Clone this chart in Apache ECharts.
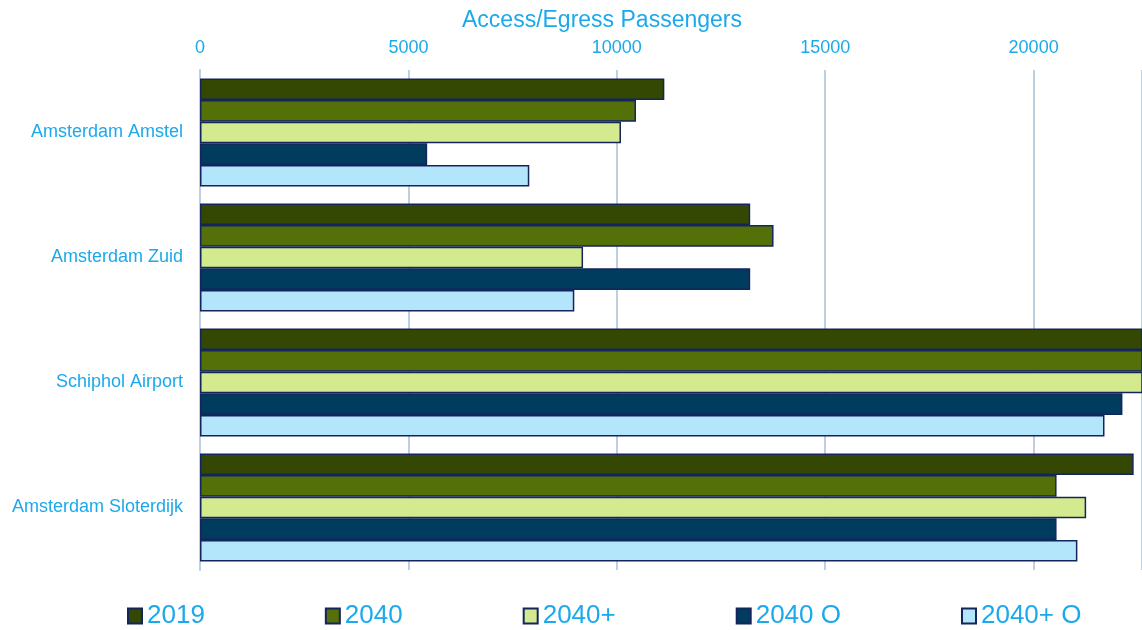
<!DOCTYPE html>
<html>
<head>
<meta charset="utf-8">
<script src="https://cdn.jsdelivr.net/npm/echarts@6/dist/echarts.min.js"></script>
<style>
  html, body { margin: 0; padding: 0; background: #ffffff; }
  #chart { width: 1142px; height: 630px; }
</style>
</head>
<body>
<div id="chart"></div>
<script>
// Stations (top to bottom) and passenger counts per scenario
const stations = ['Amsterdam Amstel', 'Amsterdam Zuid', 'Schiphol Airport', 'Amsterdam Sloterdijk'];
const scenarioNames = ['2019', '2040', '2040+', '2040 O', '2040+ O'];
const values2019   = [11140, 13200, 23800, 22400];
const values2040   = [10460, 13760, 24500, 20550];
const values2040p  = [10100, 9190, 23300, 21260];
const values2040O  = [5450, 13200, 22130, 20550];
const values2040pO = [7900, 8980, 21700, 21050];
const tickValues = [0, 5000, 10000, 15000, 20000];

const seriesValues = [values2019, values2040, values2040p, values2040O, values2040pO];
const colors = ['#344804', '#537009', '#d3eb8e', '#003c5e', '#b3e6fb'];
const textBlue = '#1ba9ec';
const font = 'Liberation Sans, Arial, sans-serif';

const chart = echarts.init(document.getElementById('chart'), null, { renderer: 'canvas' });

chart.setOption({
  animation: false,
  backgroundColor: '#ffffff',
  title: {
    text: 'Access/Egress Passengers',
    left: 457,
    top: 4,
    textStyle: { color: textBlue, fontSize: 23, fontWeight: 'normal', fontFamily: font }
  },
  grid: { left: 200, right: 0, top: 70, bottom: 60, containLabel: false },
  legend: {
    data: scenarioNames,
    top: 598,
    left: 122,
    itemGap: 120,
    itemWidth: 14,
    itemHeight: 15,
    icon: 'rect',
    textStyle: { color: textBlue, fontSize: 26, fontFamily: font }
  },
  xAxis: {
    type: 'value',
    position: 'top',
    min: 0,
    max: 22600,
    interval: 5000,
    axisLine: { show: false },
    axisTick: { show: false },
    axisLabel: {
      color: textBlue, fontSize: 18, fontFamily: font, margin: 13,
      showMaxLabel: false,
      formatter: v => (tickValues.indexOf(v) >= 0 ? String(v) : '')
    },
    splitLine: { show: true, lineStyle: { color: '#bcd0e0', width: 2 } }
  },
  yAxis: {
    type: 'category',
    data: stations,
    inverse: true,
    axisLine: { show: true, lineStyle: { color: '#bcd0e0', width: 2 } },
    axisTick: { show: false },
    axisLabel: { color: textBlue, fontSize: 18, fontFamily: font, margin: 17 }
  },
  series: scenarioNames.map((name, i) => ({
    name: name,
    type: 'bar',
    data: seriesValues[i],
    barGap: '0%',
    barCategoryGap: '13.5%',
    itemStyle: { color: colors[i], borderColor: '#14255e', borderWidth: 1.5 }
  }))
});
</script>
</body>
</html>
